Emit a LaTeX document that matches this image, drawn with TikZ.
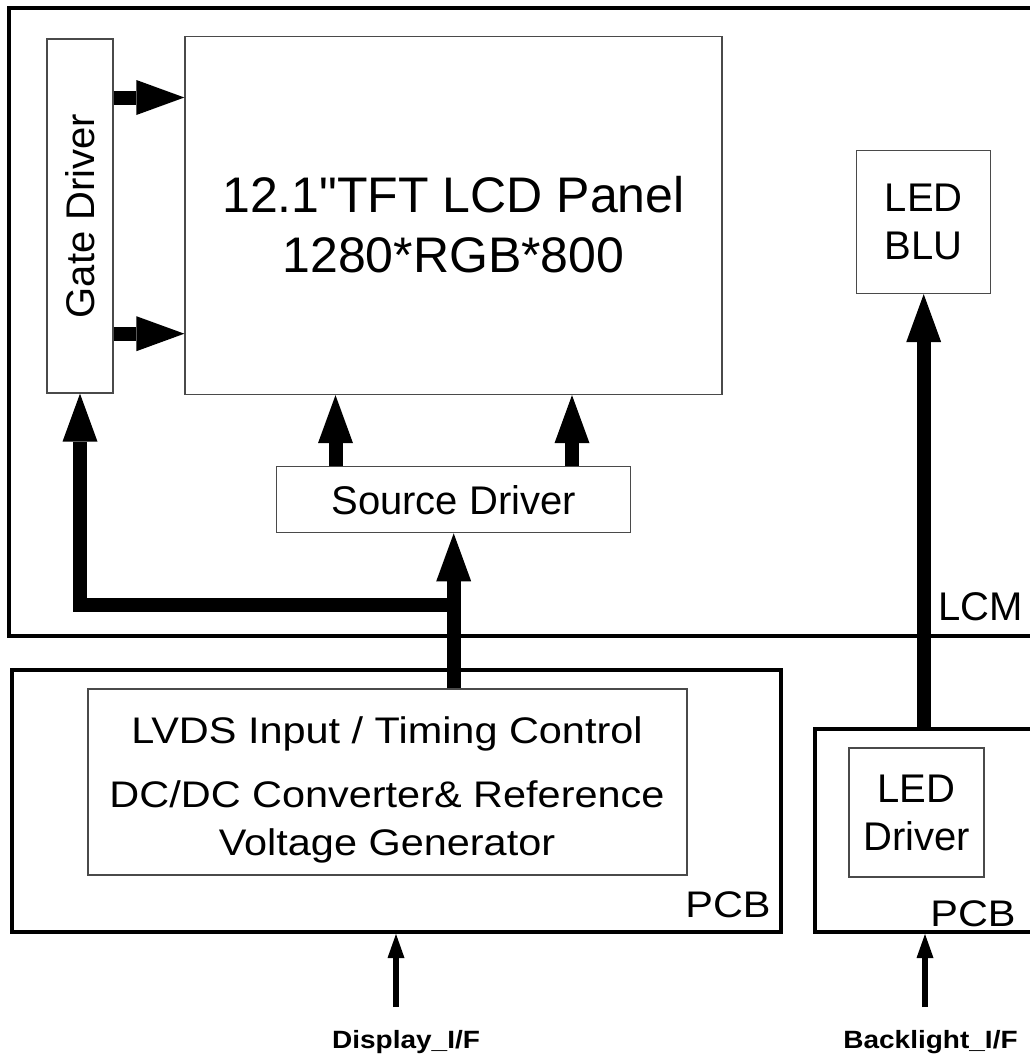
\documentclass[tikz,border=0pt]{standalone}
\usepackage{graphicx}
\usepackage{fontspec}
\setmainfont{Liberation Sans}[Ligatures=TeXOff]
\newfontfamily\widefont[FakeStretch=1.12]{Liberation Sans}
\usetikzlibrary{arrows.meta}
\definecolor{rim}{HTML}{4A4A4A}
\newcommand{\pnlsize}{\fontsize{50}{60}\selectfont}
\newcommand{\blksize}{\fontsize{40}{48}\selectfont}
\newcommand{\pcbsize}{\widefont\fontsize{37}{48}\selectfont}
\newcommand{\portsize}{\widefont\bfseries\fontsize{25}{30}\selectfont}
\tikzset{
  blk/.style={draw=rim, line width=1.3pt, inner sep=0pt, align=center, font=\blksize},
  frame/.style={draw=black, line width=4pt, inner sep=0pt},
  lab/.style={inner sep=0pt, align=center},
  bus/.style={line width=14pt, -{Triangle[length=48pt,width=35pt,line width=0pt]}},
  feed/.style={line width=6pt, -{Triangle[length=24pt,width=17pt,line width=0pt]}},
}

\begin{document}
\begin{tikzpicture}[x=1pt,y=-1pt]
    \useasboundingbox (0,0) rectangle (1030,1057);
    \clip (0,0) rectangle (1030,1057);
    \node[frame, minimum width=1036pt, minimum height=628pt] (lcm) at (527,322) {};
    \node[frame, minimum width=769pt, minimum height=262pt] (pcbl) at (396,801) {};
    \node[frame, minimum width=230pt, minimum height=203pt] (pcbr) at (930,830.5) {};

    \node[blk, minimum width=66pt, minimum height=354pt] (gate) at (80,216) {\rotatebox{90}{Gate Driver}};
    \node[blk, minimum width=537pt, minimum height=358pt] (panel) at (453.5,215.5) {};
    \node[lab, font=\pnlsize] (paneltxt) at (453.5,225) {12.1"TFT LCD Panel\\1280*RGB*800};
    \node[blk, minimum width=354pt, minimum height=66pt] (src) at (453.7,499.7) {Source Driver};
    \node[blk, minimum width=134pt, minimum height=143pt] (blu) at (923.7,222) {LED\\BLU};
    \node[blk, minimum width=599pt, minimum height=186pt] (lvds) at (387.5,782) {};
    \node[lab, font=\pcbsize] (lvdstxt) at (387,790) {LVDS Input / Timing Control\\[16pt]DC/DC Converter\& Reference\\Voltage Generator};
    \node[blk, minimum width=135pt, minimum height=129pt] (drv) at (916.5,812.5) {LED\\Driver};

    \node[lab, font=\blksize, anchor=base] (lcmlab) at (980.5,620) {LCM};
    \node[lab, font=\pcbsize, anchor=base] (pcbllab) at (728,917) {PCB};
    \node[lab, font=\pcbsize, anchor=base] (pcbrlab) at (973,926) {PCB};
    \node[lab, font=\portsize, anchor=base] (dispif) at (406,1048) {Display\_I/F};
    \node[lab, font=\portsize, anchor=base] (blif) at (930.5,1048) {Backlight\_I/F};

    \coordinate (rowa) at (0,97.5);
    \coordinate (rowb) at (0,333.7);
    \coordinate (cola) at (335.5,0);
    \coordinate (colb) at (572,0);
    \coordinate (tee) at (453.7,605);
    \coordinate (dispin) at (396,1007);
    \coordinate (blin) at (925,1007);

    \draw[bus] (gate.east |- rowa) -- (panel.west |- rowa);
    \draw[bus] (gate.east |- rowb) -- (panel.west |- rowb);
    \draw[bus] (src.north -| cola) -- (panel.south -| cola);
    \draw[bus] (src.north -| colb) -- (panel.south -| colb);
    \draw[bus] (lvds.north -| tee) -- (src.south);
    \draw[bus, line join=miter] (tee) -- (tee -| gate.south) -- (gate.south);
    \draw[bus] (pcbr.north -| blu.south) -- (blu.south);
    \draw[feed] (dispin) -- (dispin |- pcbl.south);
    \draw[feed] (blin) -- (blin |- pcbr.south);
\end{tikzpicture}
\end{document}
